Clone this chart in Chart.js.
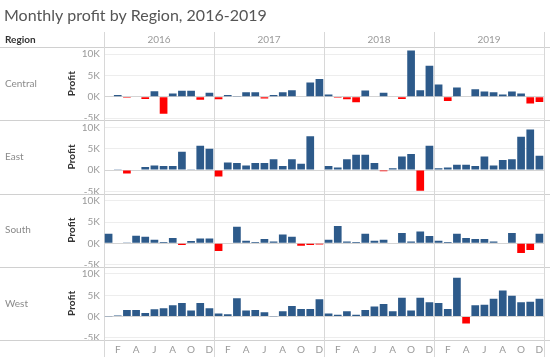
<!DOCTYPE html>
<html>
<head>
<meta charset="utf-8">
<script src="https://cdn.jsdelivr.net/npm/chart.js@4"></script>
<style>
html,body{margin:0;padding:0;background:#fff;}
canvas{display:block;}
</style>
</head>
<body>
<canvas id="c" width="550" height="357"></canvas>
<script>
// ---- data ----
const years = ['2016', '2017', '2018', '2019'];
const monthLetters = ['J','F','M','A','M','J','J','A','S','O','N','D'];
const shownMonths = [1, 3, 5, 7, 9, 11];
const regions = ['Central', 'East', 'South', 'West'];
const yTicks = [-5000, 0, 5000, 10000];

const central = [
  150, 400, -200, 150, -500, 1300, -4000, 800, 1400, 1400, -700, 950,
  -550, 400, 100, 1100, 1100, -400, 450, 1100, 1550, 150, 3350, 4200,
  550, -200, -550, -1300, 1500, 150, 950, 150, -500, 10900, 1550, 7300,
  2900, -1000, 2200, 150, 1800, 1250, 1100, 550, 1250, 800, -1550, -1200
];
const east = [
  -100, 50, -800, -100, 700, 1100, 950, 950, 4300, 100, 5700, 5000,
  -1500, 1800, 1650, 1100, 1650, 1650, 2550, 950, 2550, 1500, 7950, -100,
  950, 600, 2550, 3600, 3600, 1650, -300, 450, 3200, 3750, -4850, 5700,
  450, 600, 1250, 1250, 950, 3200, 1100, 2350, 2550, 7800, 9500, 3350
];
const south = [
  2250, 150, 50, 1800, 1550, 850, 300, 1250, -400, 550, 1150, 1150,
  -1800, 150, 3900, 600, 300, 1000, 450, 2100, 1550, -550, -400, -250,
  850, 4050, 450, 300, 2250, 600, 850, 150, 2400, 400, 2800, 1700,
  600, 300, 2250, 1250, 1000, 1000, 450, 150, 2400, -2250, -1550, 2250
];
const west = [
  80, 230, 1550, 1550, 850, 1700, 1950, 2650, 3200, 1400, 3200, 1950,
  700, 550, 4300, 1400, 1550, 1000, 50, 1250, 2500, 1800, 1800, 4050,
  700, 400, 1250, 400, 1550, 2350, 2950, 1250, 4450, 1400, 4450, 3350,
  3200, 1800, 9100, -1650, 2650, 2800, 4200, 6150, 4900, 3350, 3500, 4200
];
const seriesByRegion = [central, east, south, west];

// ---- build ----
const labels = [];
years.forEach(y => monthLetters.forEach((m, i) => labels.push(y + '-' + (i + 1))));

const POS = '#2d5a8a', NEG = '#ff0000';
const FONT = 'Lato, "Open Sans", sans-serif';
const axisIds = ['yC', 'yE', 'yS', 'yW'];

const datasets = regions.map((r, k) => ({
  label: r,
  data: seriesByRegion[k],
  yAxisID: axisIds[k],
  grouped: false,
  backgroundColor: ctx => (ctx.raw < 0 ? NEG : POS),
  borderWidth: 0,
  barPercentage: 0.84,
  categoryPercentage: 1.0
}));

function yScale(id) {
  return {
    type: 'linear',
    position: 'left',
    stack: 'rows',
    stackWeight: 1,
    min: -5500,
    max: 11700,
    afterBuildTicks: s => { s.ticks = yTicks.map(v => ({ value: v })); },
    afterFit: s => { s.width = 44; },
    border: { display: false },
    grid: {
      drawTicks: false,
      color: c => (c.tick && c.tick.value === 0 ? '#d4d4d4' : '#ededed'),
      lineWidth: 1
    },
    ticks: {
      autoSkip: false,
      padding: 4,
      color: '#9a9a9a',
      font: { family: FONT, size: 10 },
      callback: v => (v / 1000) + 'K'
    },
    title: {
      display: true,
      text: 'Profit',
      color: '#333',
      font: { family: FONT, size: 10, weight: 'bold' },
      padding: { top: 6, bottom: 0 }
    }
  };
}

const scales = {
  x: {
    type: 'category',
    afterFit: s => { s.height = 17; },
    grid: { display: false, drawTicks: false },
    border: { display: false },
    ticks: {
      autoSkip: false,
      maxRotation: 0,
      padding: 4,
      color: '#9a9a9a',
      font: { family: FONT, size: 10 },
      callback: (v, i) => (shownMonths.includes(i % 12) ? monthLetters[i % 12] : '')
    }
  }
};
// last defined left axis is placed on top
['yW', 'yS', 'yE', 'yC'].forEach(id => { scales[id] = yScale(id); });

const decor = {
  id: 'decor',
  beforeDatasetsDraw(chart) {
    const ctx = chart.ctx, a = chart.chartArea, x = chart.scales.x;
    ctx.save();
    ctx.lineWidth = 1;
    ctx.strokeStyle = '#d0d0d0';
    const ys = [a.top];
    axisIds.forEach(id => ys.push(chart.scales[id].bottom));
    ys.forEach(y => {
      const yy = Math.round(y) + 0.5;
      ctx.beginPath(); ctx.moveTo(0, yy); ctx.lineTo(chart.width, yy); ctx.stroke();
    });
    ctx.strokeStyle = '#d8d8d8';
    const step = x.getPixelForValue(1) - x.getPixelForValue(0);
    for (let k = 0; k <= years.length; k++) {
      const px = Math.round(x.getPixelForValue(k * 12) - step / 2) + 0.5;
      ctx.beginPath(); ctx.moveTo(px, 32); ctx.lineTo(px, chart.height); ctx.stroke();
    }
    ctx.restore();
  },
  afterDraw(chart) {
    const ctx = chart.ctx, x = chart.scales.x;
    ctx.save();
    ctx.textBaseline = 'alphabetic';
    ctx.fillStyle = '#555';
    ctx.font = '16px ' + FONT;
    ctx.textAlign = 'left';
    ctx.fillText('Monthly profit by Region, 2016-2019', 4, 21);
    ctx.fillStyle = '#333';
    ctx.font = 'bold 10px ' + FONT;
    ctx.fillText('Region', 5, 43);
    ctx.fillStyle = '#9a9a9a';
    ctx.font = '10px ' + FONT;
    ctx.textAlign = 'center';
    const step = x.getPixelForValue(1) - x.getPixelForValue(0);
    years.forEach((y, k) => {
      const l = x.getPixelForValue(k * 12) - step / 2;
      const r = x.getPixelForValue(k * 12 + 11) + step / 2;
      ctx.fillText(y, (l + r) / 2, 43);
    });
    ctx.textAlign = 'left';
    ctx.textBaseline = 'middle';
    ctx.fillStyle = '#8a8a8a';
    ctx.font = '10px ' + FONT;
    regions.forEach((r, k) => {
      const s = chart.scales[axisIds[k]];
      ctx.fillText(r, 5, (s.top + s.bottom) / 2);
    });
    ctx.restore();
  }
};

new Chart(document.getElementById('c'), {
  type: 'bar',
  data: { labels, datasets },
  options: {
    responsive: false,
    devicePixelRatio: 1,
    animation: false,
    layout: { padding: { top: 47, left: 60, right: 6, bottom: 0 } },
    plugins: { legend: { display: false }, tooltip: { enabled: false }, title: { display: false } },
    scales
  },
  plugins: [decor]
});
</script>
</body>
</html>
